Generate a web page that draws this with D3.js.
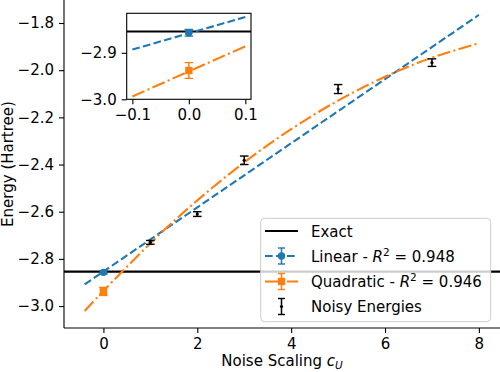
<!DOCTYPE html>
<html><head><meta charset="utf-8">
<script src="https://cdn.jsdelivr.net/npm/d3@7"></script>
<style>
body{margin:0;background:#fff}
text{font-family:"DejaVu Sans",sans-serif;font-size:15px;fill:#000}
</style>
</head><body><svg id="c" width="500" height="372"></svg>
<script>
// ---- data ----
const noiseScales = [1, 2, 3, 5, 7];
const noisyEnergies = [-2.730, -2.610, -2.382, -2.080, -1.968];
const noisyErrors = [0.008, 0.010, 0.018, 0.019, 0.016];
const exactEnergy = -2.854;
const linearFitX = [-0.4, 8];
const linearFitY = [-2.908, -1.766];
const quadFitX = [-0.4, 0, 1, 2, 3, 4, 5, 6, 7, 8];
const quadFitY = [-3.021, -2.936, -2.734, -2.552, -2.391, -2.250, -2.129, -2.028, -1.947, -1.886];
const extrapX = 0;
const linearExtrap = [-2.857, 0.007];   // value, error
const quadExtrap = [-2.938, 0.017];
const insetLinX = [-0.1, 0.1], insetLinY = [-2.893, -2.823];
const insetQuadX = [-0.1, 0.1], insetQuadY = [-2.994, -2.886];
const xTicks = [0, 2, 4, 6, 8];
const yTicks = [-3.0, -2.8, -2.6, -2.4, -2.2, -2.0, -1.8];
const insetXTicks = [-0.1, 0.0, 0.1];
const insetYTicks = [-3.0, -2.9];
const legendLabels = ["Exact", "Linear", "Quadratic", "Noisy Energies"];
const legendR2 = [null, "0.948", "0.946", null];

const BLUE = "#1f77b4", ORANGE = "#ff7f0e";
const FS = 15;
const svg = d3.select("#c");
const minus = s => s.replace(/-/g, "\u2212");
const fmt1 = v => minus(d3.format(".1f")(v));

// ---- main axes ----
const L = 64, R = 498.6, T = 0, B = 328;
const x = d3.scaleLinear().domain([-0.84, 8.42]).range([L, R]);
const y = d3.scaleLinear().domain([-3.093, -1.7025]).range([B, T]);

svg.append("defs").append("clipPath").attr("id", "mclip")
  .append("rect").attr("x", L).attr("y", T).attr("width", 500 - L).attr("height", B - T);

const plot = svg.append("g").attr("clip-path", "url(#mclip)");

// exact line
plot.append("line").attr("x1", L).attr("x2", 500)
  .attr("y1", y(exactEnergy)).attr("y2", y(exactEnergy))
  .attr("stroke", "#000").attr("stroke-width", 2.1);

const line = (sx, sy) => d3.line().x(d => sx(d[0])).y(d => sy(d[1]));

// linear fit
plot.append("path").datum(d3.zip(linearFitX, linearFitY))
  .attr("d", line(x, y)).attr("fill", "none").attr("stroke", BLUE)
  .attr("stroke-width", 2.1).attr("stroke-dasharray", "7.7,3.3");
// quadratic fit
plot.append("path").datum(d3.zip(quadFitX, quadFitY))
  .attr("d", line(x, y).curve(d3.curveNatural)).attr("fill", "none").attr("stroke", ORANGE)
  .attr("stroke-width", 2.1).attr("stroke-dasharray", "13.3,3.3,2.1,3.3");

function errbar(g, cx, y1, y2, color, capHalf, lw) {
  g.append("line").attr("x1", cx).attr("x2", cx).attr("y1", y1).attr("y2", y2)
    .attr("stroke", color).attr("stroke-width", lw);
  [y1, y2].forEach(yy => g.append("line").attr("x1", cx - capHalf).attr("x2", cx + capHalf)
    .attr("y1", yy).attr("y2", yy).attr("stroke", color).attr("stroke-width", 1.4));
}
function circleM(g, cx, cy, color, r) {
  g.append("circle").attr("cx", cx).attr("cy", cy).attr("r", r).attr("fill", color);
}
function squareM(g, cx, cy, color, s) {
  g.append("rect").attr("x", cx - s / 2).attr("y", cy - s / 2).attr("width", s).attr("height", s).attr("fill", color);
}

// noisy energies
noiseScales.forEach((s, i) => {
  errbar(plot, x(s), y(noisyEnergies[i] - noisyErrors[i]), y(noisyEnergies[i] + noisyErrors[i]), "#000", 4.3, 1.5);
  circleM(plot, x(s), y(noisyEnergies[i]), "#000", 1.6);
});
// extrapolated points
errbar(plot, x(extrapX), y(linearExtrap[0] - linearExtrap[1]), y(linearExtrap[0] + linearExtrap[1]), BLUE, 4.3, 1.5);
circleM(plot, x(extrapX), y(linearExtrap[0]), BLUE, 3.7);
errbar(plot, x(extrapX), y(quadExtrap[0] - quadExtrap[1]), y(quadExtrap[0] + quadExtrap[1]), ORANGE, 4.3, 1.5);
squareM(plot, x(extrapX), y(quadExtrap[0]), ORANGE, 7.4);

// spines (top and right lie outside the picture)
svg.append("line").attr("x1", L).attr("x2", L).attr("y1", T).attr("y2", B).attr("stroke", "#000").attr("stroke-width", 1.1);
svg.append("line").attr("x1", L).attr("x2", 500).attr("y1", B).attr("y2", B).attr("stroke", "#000").attr("stroke-width", 1.1);

// axes
const xAxis = d3.axisBottom(x).tickValues(xTicks).tickSize(5).tickPadding(5).tickFormat(d => minus(String(d)));
const gx = svg.append("g").attr("transform", `translate(0,${B})`).call(xAxis);
const yAxis = d3.axisLeft(y).tickValues(yTicks).tickSize(5).tickPadding(5).tickFormat(fmt1);
const gy = svg.append("g").attr("transform", `translate(${L},0)`).call(yAxis);
[gx, gy].forEach(g => {
  g.select(".domain").remove();
  g.selectAll(".tick line").attr("stroke", "#000").attr("stroke-width", 1.1);
  g.selectAll(".tick text").attr("font-family", "DejaVu Sans").attr("font-size", FS).attr("fill", "#000");
});

// axis labels
const xl = svg.append("text").attr("x", 282).attr("y", 366).attr("text-anchor", "middle");
xl.append("tspan").text("Noise Scaling ");
xl.append("tspan").attr("font-style", "italic").text("c");
xl.append("tspan").attr("font-style", "italic").attr("font-size", 10.5).attr("dy", 3).text("U");
svg.append("text").attr("transform", `translate(13,${(T + B) / 2}) rotate(-90)`)
  .attr("text-anchor", "middle").text("Energy (Hartree)");

// ---- legend ----
const lg = svg.append("g");
lg.append("rect").attr("x", 260.7).attr("y", 218.3).attr("width", 230).attr("height", 103.4).attr("rx", 4)
  .attr("fill", "#fff").attr("fill-opacity", 0.8).attr("stroke", "#cccccc").attr("stroke-width", 1);
const rowY = [231, 256, 281.5, 306.5];
const hx1 = 265, hx2 = 298, hc = 281.5, tx = 311;
lg.append("line").attr("x1", hx1).attr("x2", hx2).attr("y1", rowY[0]).attr("y2", rowY[0]).attr("stroke", "#000").attr("stroke-width", 2.1);
lg.append("line").attr("x1", hx1).attr("x2", hx2).attr("y1", rowY[1]).attr("y2", rowY[1]).attr("stroke", BLUE).attr("stroke-width", 2.1).attr("stroke-dasharray", "7.7,3.3");
errbar(lg, hc, rowY[1] - 8, rowY[1] + 8, BLUE, 3.5, 1.5);
circleM(lg, hc, rowY[1], BLUE, 3.7);
lg.append("line").attr("x1", hx1).attr("x2", hx2).attr("y1", rowY[2]).attr("y2", rowY[2]).attr("stroke", ORANGE).attr("stroke-width", 2.1).attr("stroke-dasharray", "13.3,3.3,2.1,3.3");
errbar(lg, hc, rowY[2] - 8, rowY[2] + 8, ORANGE, 3.5, 1.5);
squareM(lg, hc, rowY[2], ORANGE, 7.4);
errbar(lg, hc, rowY[3] - 8, rowY[3] + 8, "#000", 3.5, 1.5);
circleM(lg, hc, rowY[3], "#000", 1.6);
legendLabels.forEach((lab, i) => {
  const t = lg.append("text").attr("x", tx).attr("y", rowY[i] + 5.5);
  if (legendR2[i]) {
    t.append("tspan").text(lab + " - ");
    t.append("tspan").attr("font-style", "italic").text("R");
    t.append("tspan").attr("font-size", 10.5).attr("dy", -6).text("2");
    t.append("tspan").attr("dy", 6).text(" = " + legendR2[i]);
  } else t.text(lab);
});

// ---- inset ----
const iL = 126.7, iR = 251, iT = 13.3, iB = 99.3;
const ix = d3.scaleLinear().domain([-0.11, 0.11]).range([iL, iR]);
const iy = d3.scaleLinear().domain([-3.0, -2.815]).range([iB, iT]);
const ins = svg.append("g");
ins.append("rect").attr("x", iL).attr("y", iT).attr("width", iR - iL).attr("height", iB - iT).attr("fill", "#fff");
svg.select("defs").append("clipPath").attr("id", "iclip")
  .append("rect").attr("x", iL).attr("y", iT).attr("width", iR - iL).attr("height", iB - iT);
const ip = ins.append("g").attr("clip-path", "url(#iclip)");
ip.append("line").attr("x1", iL).attr("x2", iR).attr("y1", iy(exactEnergy)).attr("y2", iy(exactEnergy))
  .attr("stroke", "#000").attr("stroke-width", 2.1);
ip.append("path").datum(d3.zip(insetLinX, insetLinY)).attr("d", line(ix, iy)).attr("fill", "none")
  .attr("stroke", BLUE).attr("stroke-width", 2.1).attr("stroke-dasharray", "7.7,3.3");
ip.append("path").datum(d3.zip(insetQuadX, insetQuadY)).attr("d", line(ix, iy)).attr("fill", "none")
  .attr("stroke", ORANGE).attr("stroke-width", 2.1).attr("stroke-dasharray", "13.3,3.3,2.1,3.3");
errbar(ip, ix(extrapX), iy(linearExtrap[0] - linearExtrap[1]), iy(linearExtrap[0] + linearExtrap[1]), BLUE, 4.3, 1.5);
circleM(ip, ix(extrapX), iy(linearExtrap[0]), BLUE, 3.7);
errbar(ip, ix(extrapX), iy(quadExtrap[0] - quadExtrap[1]), iy(quadExtrap[0] + quadExtrap[1]), ORANGE, 4.3, 1.5);
squareM(ip, ix(extrapX), iy(quadExtrap[0]), ORANGE, 7.4);
ins.append("rect").attr("x", iL).attr("y", iT).attr("width", iR - iL).attr("height", iB - iT)
  .attr("fill", "none").attr("stroke", "#000").attr("stroke-width", 1.1);
const igx = ins.append("g").attr("transform", `translate(0,${iB})`)
  .call(d3.axisBottom(ix).tickValues(insetXTicks).tickSize(5).tickPadding(5).tickFormat(fmt1));
const igy = ins.append("g").attr("transform", `translate(${iL},0)`)
  .call(d3.axisLeft(iy).tickValues(insetYTicks).tickSize(5).tickPadding(5).tickFormat(fmt1));
[igx, igy].forEach(g => {
  g.select(".domain").remove();
  g.selectAll(".tick line").attr("stroke", "#000").attr("stroke-width", 1.1);
  g.selectAll(".tick text").attr("font-family", "DejaVu Sans").attr("font-size", FS).attr("fill", "#000");
});
</script>
</body></html>
